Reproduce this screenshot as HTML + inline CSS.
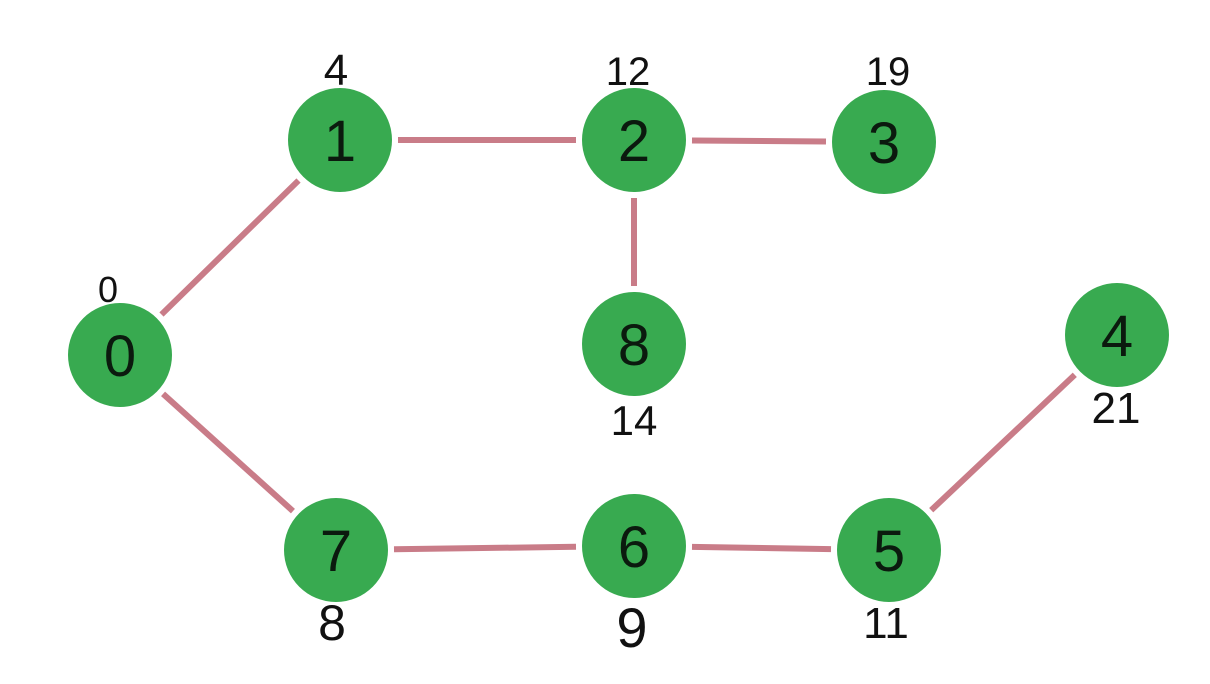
<!DOCTYPE html>
<html><head><meta charset="utf-8"><style>
html,body{margin:0;padding:0;background:#fff;}
svg{display:block;}
</style></head><body>
<svg id="g" width="1210" height="684" viewBox="0 0 1210 684" xmlns="http://www.w3.org/2000/svg"></svg>
<script>
const nodeIds = ["0","1","2","3","4","5","6","7","8"];
const nodeX = [120,340,634,884,1117,889,634,336,634];
const nodeY = [355,140,140,142,335,550,546,550,344];
const distLabels = ["0","4","12","19","21","11","9","8","14"];
const labelX = [108,336,628,888,1116,886,632,332,634];
const labelY = [302,85,85,85,423,638,647,640,435];
const labelSize = [36,44,40,40,44,44,56,50,42];
const edgeFrom = [0,1,2,2,0,7,6,5];
const edgeTo   = [1,2,3,8,7,6,5,4];
const R = 52;
const svg = document.getElementById('g');
const NS = 'http://www.w3.org/2000/svg';
for (let i=0;i<edgeFrom.length;i++){
  const a=edgeFrom[i], b=edgeTo[i];
  const x1=nodeX[a], y1=nodeY[a], x2=nodeX[b], y2=nodeY[b];
  const d=Math.hypot(x2-x1,y2-y1), ux=(x2-x1)/d, uy=(y2-y1)/d, g=R+6;
  const l=document.createElementNS(NS,'line');
  l.setAttribute('x1',x1+ux*g); l.setAttribute('y1',y1+uy*g);
  l.setAttribute('x2',x2-ux*g); l.setAttribute('y2',y2-uy*g);
  l.setAttribute('stroke','#c97c88'); l.setAttribute('stroke-width','6');
  
  
  svg.appendChild(l);
}
for (let i=0;i<nodeIds.length;i++){
  const c=document.createElementNS(NS,'circle');
  c.setAttribute('cx',nodeX[i]); c.setAttribute('cy',nodeY[i]); c.setAttribute('r',R);
  c.setAttribute('fill','#38aa50');
  
  
  svg.appendChild(c);
  const t=document.createElementNS(NS,'text');
  t.setAttribute('x',nodeX[i]); t.setAttribute('y',nodeY[i]+21);
  t.setAttribute('text-anchor','middle');
  t.setAttribute('font-family','Liberation Sans, sans-serif');
  t.setAttribute('font-size','58'); t.setAttribute('fill','#0b1a0e');
  t.textContent=nodeIds[i];
  
  
  svg.appendChild(t);
  const dl=document.createElementNS(NS,'text');
  dl.setAttribute('x',labelX[i]); dl.setAttribute('y',labelY[i]);
  dl.setAttribute('text-anchor','middle');
  dl.setAttribute('font-family','Liberation Sans, sans-serif');
  dl.setAttribute('font-size',labelSize[i]); dl.setAttribute('fill','#111');
  dl.textContent=distLabels[i];
  
  
  svg.appendChild(dl);
}
</script>
</body></html>
